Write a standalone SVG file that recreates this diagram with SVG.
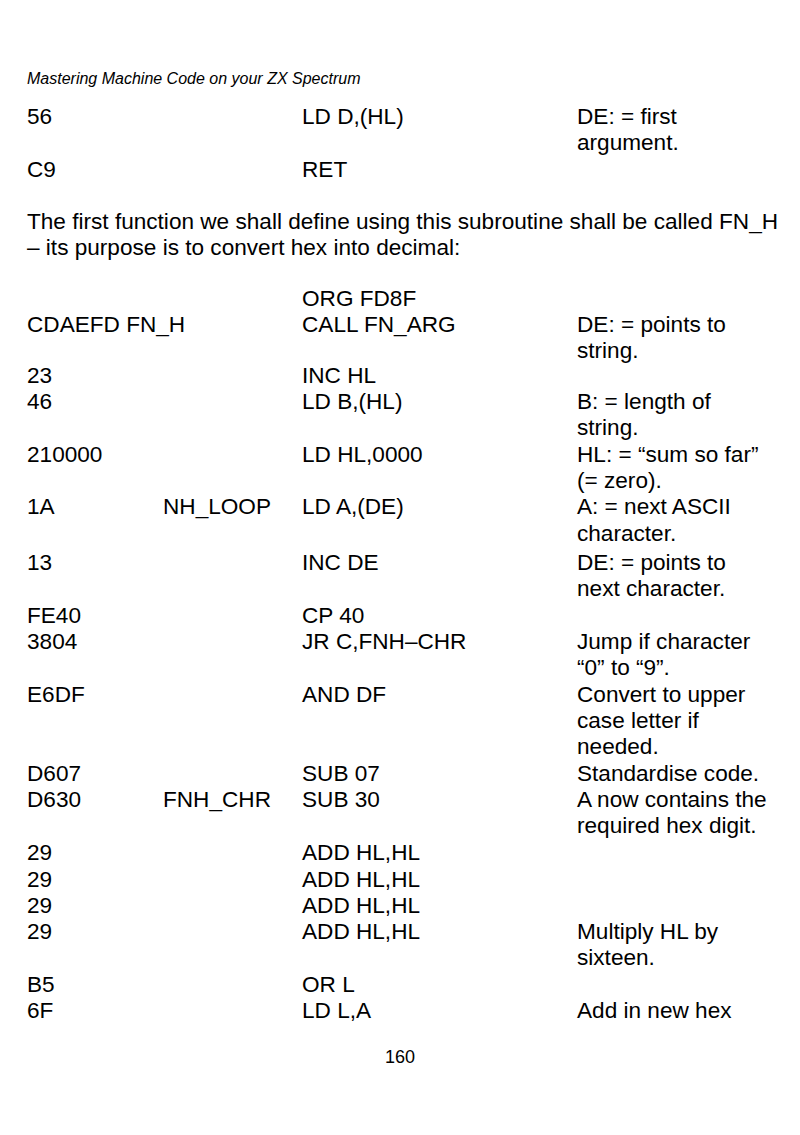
<svg xmlns="http://www.w3.org/2000/svg" width="800" height="1135" viewBox="0 0 800 1135">
<style>
text{font-family:"Liberation Sans",Arial,sans-serif;fill:#000;font-size:22.6px}
.hdr{font-size:16px;font-style:italic}
.pg{font-size:18px}
</style>
<rect width="800" height="1135" fill="#fff"/>
<text class="hdr" x="27" y="84">Mastering Machine Code on your ZX Spectrum</text>
<g id="r-56"><text x="27" y="124.3">56</text><text x="302" y="124.3">LD D,(HL)</text><text x="577" y="124.3">DE: = first</text><text x="577" y="150.4">argument.</text></g>
<g id="r-c9"><text x="27" y="176.6">C9</text><text x="302" y="176.6">RET</text></g>
<g id="para"><text x="27" y="229.2">The first function we shall define using this subroutine shall be called FN_H</text><text x="27" y="254.8">– its purpose is to convert hex into decimal:</text></g>
<g id="r-org"><text x="302" y="305.6">ORG FD8F</text></g>
<g id="r-call"><text x="27" y="331.7">CDAEFD FN_H</text><text x="302" y="331.7">CALL FN_ARG</text><text x="577" y="331.7">DE: = points to</text><text x="577" y="357.9">string.</text></g>
<g id="r-23"><text x="27" y="383">23</text><text x="302" y="383">INC HL</text></g>
<g id="r-46"><text x="27" y="409.2">46</text><text x="302" y="409.2">LD B,(HL)</text><text x="577" y="409.2">B: = length of</text><text x="577" y="435.4">string.</text></g>
<g id="r-2100"><text x="27" y="461.7">210000</text><text x="302" y="461.7">LD HL,0000</text><text x="577" y="461.7">HL: = “sum so far”</text><text x="577" y="487.9">(= zero).</text></g>
<g id="r-1a"><text x="27" y="514.3">1A</text><text x="163" y="514.3">NH_LOOP</text><text x="302" y="514.3">LD A,(DE)</text><text x="577" y="514.3">A: = next ASCII</text><text x="577" y="540.5">character.</text></g>
<g id="r-13"><text x="27" y="570">13</text><text x="302" y="570">INC DE</text><text x="577" y="570">DE: = points to</text><text x="577" y="596.2">next character.</text></g>
<g id="r-fe40"><text x="27" y="622.6">FE40</text><text x="302" y="622.6">CP 40</text></g>
<g id="r-3804"><text x="27" y="649">3804</text><text x="302" y="649">JR C,FNH–CHR</text><text x="577" y="649">Jump if character</text><text x="577" y="675.3">“0” to “9”.</text></g>
<g id="r-e6df"><text x="27" y="701.7">E6DF</text><text x="302" y="701.7">AND DF</text><text x="577" y="701.7">Convert to upper</text><text x="577" y="727.9">case letter if</text><text x="577" y="754.2">needed.</text></g>
<g id="r-d607"><text x="27" y="780.7">D607</text><text x="302" y="780.7">SUB 07</text><text x="577" y="780.7">Standardise code.</text></g>
<g id="r-d630"><text x="27" y="806.8">D630</text><text x="163" y="806.8">FNH_CHR</text><text x="302" y="806.8">SUB 30</text><text x="577" y="806.8">A now contains the</text><text x="577" y="833">required hex digit.</text></g>
<g id="r-29a"><text x="27" y="860.4">29</text><text x="302" y="860.4">ADD HL,HL</text></g>
<g id="r-29b"><text x="27" y="886.6">29</text><text x="302" y="886.6">ADD HL,HL</text></g>
<g id="r-29c"><text x="27" y="912.7">29</text><text x="302" y="912.7">ADD HL,HL</text></g>
<g id="r-29d"><text x="27" y="938.8">29</text><text x="302" y="938.8">ADD HL,HL</text><text x="577" y="938.8">Multiply HL by</text><text x="577" y="965">sixteen.</text></g>
<g id="r-b5"><text x="27" y="991.6">B5</text><text x="302" y="991.6">OR L</text></g>
<g id="r-6f"><text x="27" y="1018">6F</text><text x="302" y="1018">LD L,A</text><text x="577" y="1018">Add in new hex</text></g>
<text class="pg" x="400" y="1063.4" text-anchor="middle">160</text>
</svg>
